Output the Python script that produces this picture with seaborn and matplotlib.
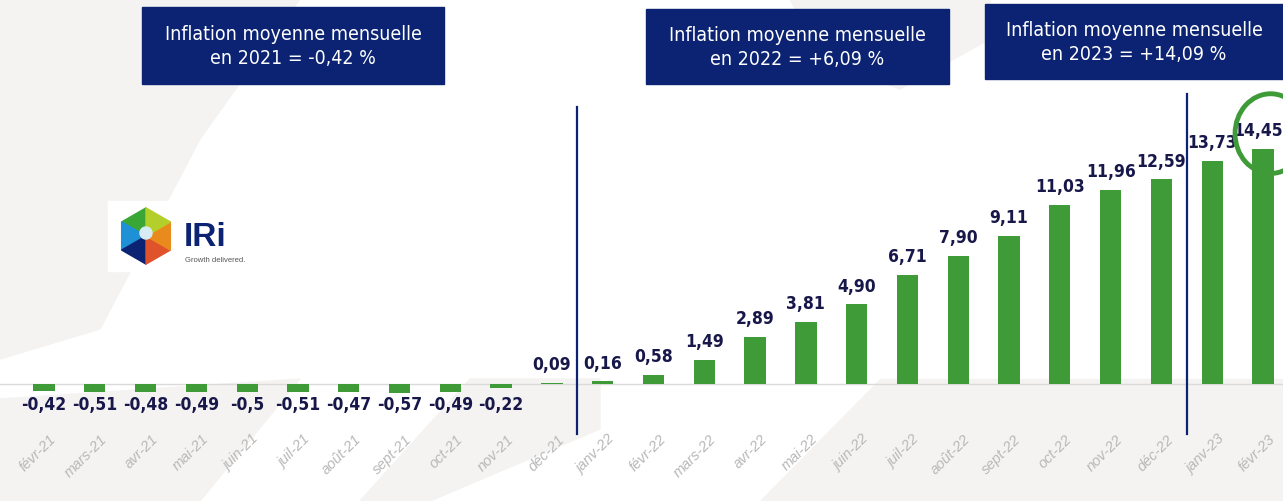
import matplotlib
matplotlib.use("Agg")
import numpy as np
import pandas as pd
import matplotlib.pyplot as plt
import seaborn as sns
from matplotlib.patches import Rectangle, Ellipse, Polygon

months = ["févr-21", "mars-21", "avr-21", "mai-21", "juin-21", "juil-21", "août-21",
          "sept-21", "oct-21", "nov-21", "déc-21", "janv-22", "févr-22", "mars-22",
          "avr-22", "mai-22", "juin-22", "juil-22", "août-22", "sept-22", "oct-22",
          "nov-22", "déc-22", "janv-23", "févr-23"]
values = [-0.42, -0.51, -0.48, -0.49, -0.5, -0.51, -0.47, -0.57, -0.49, -0.22,
          0.09, 0.16, 0.58, 1.49, 2.89, 3.81, 4.90, 6.71, 7.90, 9.11, 11.03,
          11.96, 12.59, 13.73, 14.45]
value_labels = ["-0,42", "-0,51", "-0,48", "-0,49", "-0,5", "-0,51", "-0,47", "-0,57",
                "-0,49", "-0,22", "0,09", "0,16", "0,58", "1,49", "2,89", "3,81",
                "4,90", "6,71", "7,90", "9,11", "11,03", "11,96", "12,59", "13,73", "14,45"]
box_texts = ["Inflation moyenne mensuelle\nen 2021 = -0,42 %",
             "Inflation moyenne mensuelle\nen 2022 = +6,09 %",
             "Inflation moyenne mensuelle\nen 2023 = +14,09 %"]
year_breaks = [10.5, 22.5]

GREEN = "#3e9b37"
NAVY = "#0b2372"
LABEL = "#17174a"
FONT = ["DejaVu Sans"]

W, H = 1283, 502
fig = plt.figure(figsize=(W / 100, H / 100), dpi=100)
fig.patch.set_facecolor("white")


def px(x, y):
    return (x / W, 1 - y / H)


# faint background shapes
bg = "#f5f3f2"
for poly in [
    [(0, 0), (300, 0), (200, 140), (100, 330), (0, 360)],
    [(0, 400), (300, 380), (200, 502), (0, 502)],
    [(470, 380), (600, 380), (600, 430), (430, 502), (360, 502)],
    [(880, 380), (1283, 380), (1283, 502), (760, 502)],
    [(790, 0), (990, 0), (990, 40), (900, 90), (820, 60)],
]:
    fig.patches.append(Polygon([px(x, y) for x, y in poly], closed=True,
                               transform=fig.transFigure, color=bg, zorder=0))

ax = fig.add_axes([0, 0, 1, 1], zorder=1)
ax.set_facecolor("none")

df = pd.DataFrame({"month": months, "value": values})
sns.barplot(data=df, x="month", y="value", color=GREEN, width=0.42,
            saturation=1, ax=ax, zorder=3)

xpx = (1263 - 44) / 24
ax.set_xlim(-44 / xpx, 24 + 20 / xpx)
ypx = 16.26
ax.set_ylim(-117 / ypx, (H - 117) / ypx)
ax.axis("off")

ax.axhline(0, color="#dadada", lw=1, zorder=2)

last = len(values) - 1
for i, (v, lab) in enumerate(zip(values, value_labels)):
    xt = i - 0.1 if i == last else i  # keep the last label inside the frame
    if v < 0:
        ax.text(xt, -1.25, lab, ha="center", va="center", fontsize=12.5,
                fontweight="bold", fontstretch="condensed", color=LABEL,
                family=FONT, zorder=4)
    else:
        ax.text(xt, v + 0.6, lab, ha="center", va="bottom", fontsize=12.5,
                fontweight="bold", fontstretch="condensed", color=LABEL,
                family=FONT, zorder=4)

for i, m in enumerate(months):
    ax.text(i + 0.1, -2.9, m, ha="right", va="top", rotation=45,
            rotation_mode="anchor", fontsize=10.5, style="italic",
            color="#b8b8b8", family=["Liberation Sans", "DejaVu Sans"], zorder=4)

for xb, top in zip(year_breaks, [17.04, 17.83]):
    ax.plot([xb, xb], [-3.07, top], color=NAVY, lw=1.6, zorder=4)

# highlight circle on last bar
ax.add_patch(Ellipse((last + 0.15, 15.4), 1.4, 4.9, fill=False,
                     edgecolor=GREEN, lw=3.5, zorder=5, clip_on=False))

# title boxes
for (x0, y0, x1, y1), txt in zip([(142, 8, 444, 85), (646, 10, 949, 85), (985, 5, 1283, 80)],
                                 box_texts):
    l, b = px(x0, y1)
    fig.patches.append(Rectangle((l, b), (x1 - x0) / W, (y1 - y0) / H,
                                 transform=fig.transFigure, color=NAVY, zorder=5))
    cx, cy = px((x0 + x1) / 2, (y0 + y1) / 2)
    fig.text(cx, cy, txt, ha="center", va="center", color="white", fontsize=14,
             family=FONT, fontstretch="condensed", linespacing=1.3, zorder=6)

# IRi logo
fig.patches.append(Rectangle(px(108, 272), 155 / W, 70 / H, transform=fig.transFigure,
                             color="white", zorder=4))
lx, ly = px(146, 237)
r = 0.056
aspect = W / H
hex_colors = ["#3aa635", "#1e90d6", "#0b2372", "#e0522a", "#e98b1c", "#b5cf2a"]
ang = np.deg2rad(np.arange(90, 450, 60))
pts = [(lx + r * np.cos(a) / aspect, ly + r * np.sin(a)) for a in ang]
for k in range(6):
    fig.patches.append(Polygon([(lx, ly), pts[k], pts[(k + 1) % 6]], closed=True,
                               transform=fig.transFigure, color=hex_colors[k], zorder=5))
fig.patches.append(Ellipse((lx, ly + 0.006), 0.024 / aspect, 0.024,
                           transform=fig.transFigure, color="#d6ebf4", zorder=6))
fig.text(*px(184, 237), "IRi", ha="left", va="center", fontsize=24, fontweight="bold",
         color=NAVY, family=["Liberation Sans", "DejaVu Sans"], zorder=6)
fig.text(*px(185, 260), "Growth delivered.", ha="left", va="center", fontsize=5.5,
         color="#555555", family=["Liberation Sans", "DejaVu Sans"], zorder=6)

fig.savefig("out.png", dpi=100, facecolor="white")
